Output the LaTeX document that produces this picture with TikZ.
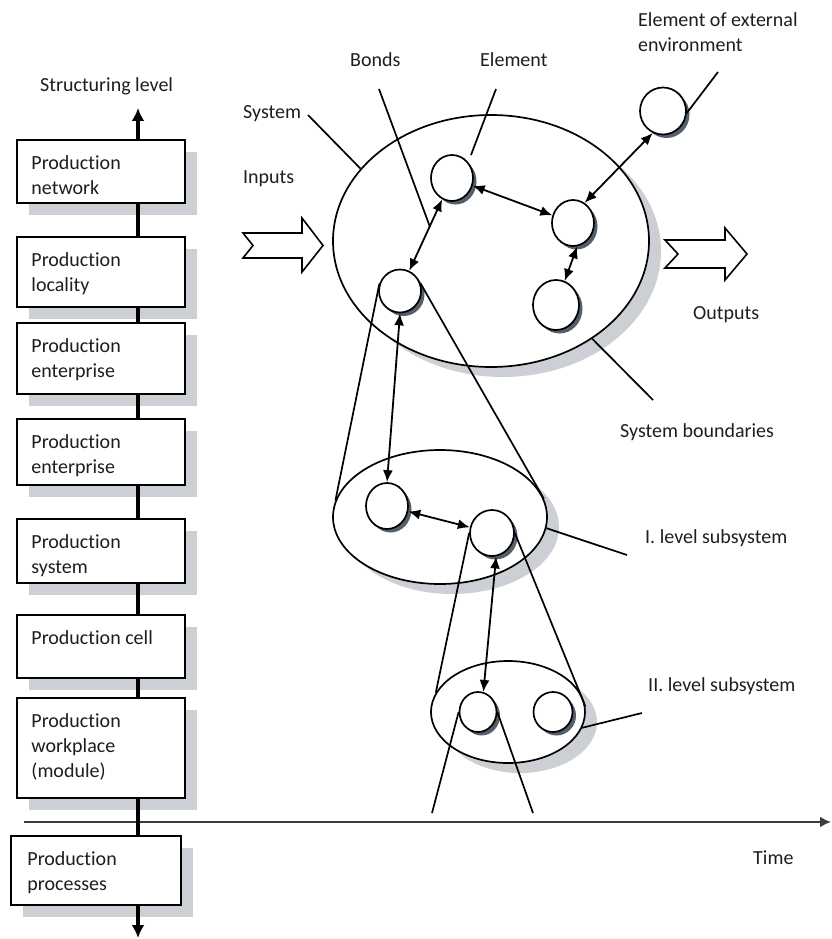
\documentclass[tikz,border=0pt]{standalone}
\usepackage{fontspec}
\setmainfont{Carlito}[Ligatures=NoCommon]
\usetikzlibrary{shapes.geometric,arrows.meta,shadows}
\definecolor{shlight}{RGB}{204,208,213}
\definecolor{shdark}{RGB}{85,95,108}
\definecolor{txt}{RGB}{30,30,30}
\definecolor{axisgray}{RGB}{60,60,60}
\begin{document}
\begin{tikzpicture}[x=1pt,y=-1pt,
  lbl/.style={font=\fontsize{20}{25}\selectfont, text=txt, inner sep=0pt, align=left},
  boxtxt/.style={lbl, anchor=north west},
  levelbox/.style={draw, line width=1.5pt, fill=white, minimum width=168pt, inner sep=0pt,
    drop shadow={shadow xshift=12pt, shadow yshift=-12pt, fill=shlight, opacity=1}},
  elem/.style={ellipse, draw, line width=1.7pt, fill=white, inner sep=0pt,
    drop shadow={shadow xshift=3.5pt, shadow yshift=-3.5pt, fill=shdark, opacity=1}},
  sysell/.style={ellipse, draw, line width=1.7pt, fill=white, inner sep=0pt,
    drop shadow={shadow xshift=12pt, shadow yshift=-10pt, fill=shlight, opacity=1}},
  leader/.style={line width=1.7pt},
  bond/.style={line width=1.8pt, {Latex[length=12pt,width=10pt]}-{Latex[length=12pt,width=10pt]}},
  vaxis/.style={line width=3.8pt},
  blockarrow/.style={draw, line width=1.6pt, fill=white, line join=miter}
]
\useasboundingbox (0,0) rectangle (831,939);

% ---------- level boxes ----------
\node[levelbox, minimum height=63pt] (b1) at (101,171.5) {};
\node[levelbox, minimum height=70pt] (b2) at (101,272) {};
\node[levelbox, minimum height=71pt] (b3) at (101,358.5) {};
\node[levelbox, minimum height=66pt] (b4) at (101,452) {};
\node[levelbox, minimum height=64pt] (b5) at (101,551) {};
\node[levelbox, minimum height=63pt] (b6) at (101,646.5) {};
\node[levelbox, minimum height=100pt] (b7) at (101,748) {};
\node[levelbox, minimum height=69pt, minimum width=170pt] (b8) at (96,870.5) {};

\node[boxtxt] (t1) at ([xshift=15pt,yshift=-16pt]b1.north west) {Production\\network};
\node[boxtxt] (t2) at ([xshift=15pt,yshift=-16pt]b2.north west) {Production\\locality};
\node[boxtxt] (t3) at ([xshift=15pt,yshift=-16pt]b3.north west) {Production\\enterprise};
\node[boxtxt] (t4) at ([xshift=15pt,yshift=-16pt]b4.north west) {Production\\enterprise};
\node[boxtxt] (t5) at ([xshift=15pt,yshift=-16pt]b5.north west) {Production\\system};
\node[boxtxt] (t6) at ([xshift=15pt,yshift=-16pt]b6.north west) {Production cell};
\node[boxtxt] (t7) at ([xshift=15pt,yshift=-16pt]b7.north west) {Production\\workplace\\(module)};
\node[boxtxt] (t8) at ([xshift=17pt,yshift=-16pt]b8.north west) {Production\\processes};

% ---------- time axis ----------
\coordinate (t0) at (24,822);
\coordinate (tend) at (831,822);
\draw[line width=2.8pt, axisgray, -{Latex[length=11pt,width=11pt]}] (t0) -- (tend);
\node[lbl, anchor=base west] (ltime) at (753,864) {Time};

% ---------- vertical structuring axis ----------
\coordinate (vtop) at (138,108);
\coordinate (vbot) at (138,938);
\draw[vaxis, -{Latex[length=13pt,width=13pt]}] (b1.north -| vtop) -- (vtop);
\draw[vaxis] (b1.south -| vtop) -- (b2.north -| vtop);
\draw[vaxis] (b2.south -| vtop) -- (b3.north -| vtop);
\draw[vaxis] (b3.south -| vtop) -- (b4.north -| vtop);
\draw[vaxis] (b4.south -| vtop) -- (b5.north -| vtop);
\draw[vaxis] (b5.south -| vtop) -- (b6.north -| vtop);
\draw[vaxis] (b6.south -| vtop) -- (b7.north -| vtop);
\draw[vaxis] (b7.south -| vtop) -- (b8.north -| vtop);
\draw[vaxis, -{Latex[length=13pt,width=13pt]}] (b8.south -| vtop) -- (vbot);
\node[lbl, anchor=base west] (lstruct) at (40,92) {Structuring level};

% ---------- system ellipses ----------
\node[sysell, minimum width=316pt, minimum height=252pt] (sys) at (491,241) {};
\node[sysell, minimum width=214pt, minimum height=134pt] (sub1) at (440,517) {};
\node[sysell, minimum width=154pt, minimum height=102pt] (sub2) at (508,712) {};

% ---------- elements ----------
\node[elem, minimum width=42pt, minimum height=46pt] (e1) at (452,178) {};
\node[elem, minimum width=42pt, minimum height=46pt] (e2) at (573,223) {};
\node[elem, minimum width=46pt, minimum height=50pt] (e3) at (556,305) {};
\node[elem, minimum width=42pt, minimum height=43pt] (e4) at (400,291) {};
\node[elem, minimum width=46pt, minimum height=47pt] (ext) at (663,111) {};
\node[elem, minimum width=42pt, minimum height=46pt] (s1a) at (387,506) {};
\node[elem, minimum width=44pt, minimum height=46pt] (s1b) at (492,533) {};
\node[elem, minimum width=37pt, minimum height=40pt] (s2a) at (478,712) {};
\node[elem, minimum width=39pt, minimum height=40pt] (s2b) at (553,712) {};

% ---------- bonds ----------
\draw[bond] (e4) -- (e1);
\draw[bond] (e1) -- (e2);
\draw[bond] (e2.-80) -- (e3.70);
\draw[bond] (e2.60) -- (ext.245);
\draw[bond] (e4.south) -- (s1a.north);
\draw[bond] (s1a) -- (s1b);
\draw[bond] (s1b.-80) -- (s2a.75);

% ---------- zoom cones ----------
\draw[leader] (e4.160) -- (sub1.171);
\draw[leader] (e4.20) -- (sub1.10);
\draw[leader] (s1b.west) -- (sub2.165);
\draw[leader] (s1b.east) -- (sub2.4);
\coordinate (d1) at (432,813);
\coordinate (d2) at (533,813);
\draw[leader] (s2a.west) -- (d1);
\draw[leader] (s2a.east) -- (d2);

% ---------- inputs / outputs ----------
\draw[blockarrow] (243,233) -- (302,233) -- (302,218) -- (323,245.5) -- (302,272) -- (302,258) -- (243,258) -- (253,245.5) -- cycle;
\draw[blockarrow] (665,240) -- (725,240) -- (725,228) -- (747,254) -- (725,280) -- (725,268) -- (665,268) -- (678,254) -- cycle;

% ---------- labels and leader lines ----------
\node[lbl, anchor=base west] (lsys) at (243,118) {System};
\coordinate (sysL) at (308,115);
\draw[leader] (sysL) -- (sys.151);
\node[lbl, anchor=base west] (lin) at (243,183) {Inputs};
\node[lbl, anchor=base west] (lbonds) at (350,67) {Bonds};
\coordinate (bondA) at (379,89);
\coordinate (bondB) at (430,227);
\draw[leader] (bondA) -- (bondB);
\node[lbl, anchor=base west] (lelem) at (480,67) {Element};
\coordinate (elA) at (496,89);
\coordinate (elB) at (471,155);
\draw[leader] (elA) -- (elB);
\node[lbl, anchor=base west] (lext1) at (638,27) {Element of external};
\node[lbl, anchor=base west] (lext2) at (638,52) {environment};
\coordinate (extA) at (718,72);
\draw[leader] (extA) -- (ext.-5);
\node[lbl, anchor=base west] (lout) at (693,319) {Outputs};
\node[lbl, anchor=base west] (lbound) at (620,437) {System boundaries};
\coordinate (sbA) at (653,400);
\draw[leader] (sys.-44) -- (sbA);
\node[lbl, anchor=base west] (llev1) at (645,543) {I. level subsystem};
\coordinate (l1A) at (627,555);
\draw[leader] (sub1.-6) -- (l1A);
\node[lbl, anchor=base west] (llev2) at (648,691) {II. level subsystem};
\coordinate (l2A) at (642,713);
\draw[leader] (sub2.-12) -- (l2A);
\end{tikzpicture}
\end{document}
